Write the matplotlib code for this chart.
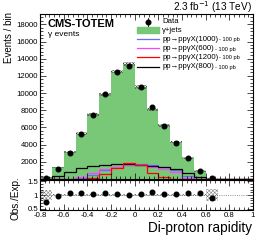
import numpy as np
import matplotlib
matplotlib.use("Agg")
import matplotlib.pyplot as plt
from matplotlib.ticker import MultipleLocator

plt.rcParams['font.family'] = ['Liberation Sans', 'DejaVu Sans']
plt.rcParams['axes.unicode_minus'] = False
plt.rcParams['hatch.linewidth'] = 0.35

# bins in di-proton rapidity
edges = [-0.8, -0.7, -0.6, -0.5, -0.4, -0.3, -0.2, -0.1, 0.0, 0.1,
         0.2, 0.3, 0.4, 0.5, 0.6, 0.7, 0.8, 0.9, 1.0]
centers = [-0.75, -0.65, -0.55, -0.45, -0.35, -0.25, -0.15, -0.05, 0.05,
           0.15, 0.25, 0.35, 0.45, 0.55, 0.65]

# data points
data = [150, 1200, 3080, 5230, 7420, 9860, 12480, 13100, 10740, 8440,
        6160, 4250, 2490, 940, 80]

# gamma+jets expectation and its uncertainty
gjets = [230, 1350, 3100, 5280, 7550, 9850, 12500, 13350, 10700, 8100,
         6250, 4320, 2490, 940, 60, 0, 0, 0]
gjets_unc = [60, 90, 120, 150, 170, 190, 210, 220, 200, 180,
             160, 130, 100, 70, 40, 0, 0, 0]

# signal samples (x 100 pb)
sig1000 = [0, 0, 0, 120, 520, 1000, 1400, 1650, 1700, 1600,
           1420, 1000, 400, 30, 0, 0, 0, 0]
sig600 = [0, 0, 30, 270, 740, 1180, 1450, 1580, 1580, 1400,
          1130, 800, 150, 0, 0, 0, 0, 0]
sig1200 = [0, 0, 0, 0, 100, 580, 1240, 1820, 1600, 650,
           250, 60, 0, 0, 0, 0, 0, 0]
sig800 = [30, 350, 870, 1270, 1480, 1640, 1740, 1750, 1600, 1480,
          1400, 1130, 670, 240, 20, 0, 0, 0]

# ratio panel
ratio = [0.75, 0.95, 1.06, 1.06, 1.03, 1.06, 1.03, 1.01, 1.04, 1.10,
         1.03, 1.04, 1.06, 1.06, 0.88]
ratio_unc = [0.18, 0.04, 0.03, 0.03, 0.03, 0.03, 0.03, 0.03, 0.03, 0.03,
             0.03, 0.03, 0.03, 0.03, 0.22, 0, 0, 0]

green = '#78c878'
fig = plt.figure(figsize=(2.66, 2.40), dpi=100)
ax = fig.add_axes([0.1504, 0.254, 0.8008, 0.6875])
rx = fig.add_axes([0.1504, 0.125, 0.8008, 0.125])

# main panel
ax.stairs(gjets, edges, fill=True, color=green, lw=0)
lo = np.array(gjets) - np.array(gjets_unc)
hi = np.array(gjets) + np.array(gjets_unc)
ax.stairs(hi, edges, baseline=lo, fill=True, facecolor='none',
          edgecolor='#444444', hatch='x' * 10, lw=0)
ax.stairs(sig1000, edges, color='#6a6aff', lw=0.9)
ax.stairs(sig600, edges, color='#ff44ff', lw=0.9)
ax.stairs(sig800, edges, color='black', lw=0.9)
ax.stairs(sig1200, edges, color='#ff0000', lw=0.9)
ax.plot(centers, data, 'o', color='black', ms=3.3, zorder=5)

ax.set_xlim(-0.8, 1.0)
ax.set_ylim(0, 19200)
ax.xaxis.set_major_locator(MultipleLocator(0.2))
ax.xaxis.set_minor_locator(MultipleLocator(0.04))
ax.yaxis.set_major_locator(MultipleLocator(2000))
ax.yaxis.set_minor_locator(MultipleLocator(400))
ax.set_xticklabels([])
ax.set_yticks([2000, 4000, 6000, 8000, 10000, 12000, 14000, 16000, 18000])

# ratio panel
rx.stairs(1 + np.array(ratio_unc), edges, baseline=1 - np.array(ratio_unc),
          fill=True, facecolor='none', edgecolor='#777777', hatch='x' * 9, lw=0)
rx.axhline(1, color='#666666', lw=0.6, ls=':')
rx.plot(centers, ratio, 'o', color='black', ms=3.3, zorder=5)
rx.set_xlim(-0.8, 1.0)
rx.set_ylim(0.45, 1.55)
rx.xaxis.set_major_locator(MultipleLocator(0.2))
rx.xaxis.set_minor_locator(MultipleLocator(0.04))
rx.set_yticks([0.5, 1, 1.5])
rx.set_yticklabels(['0.5', '1', '1.5'])
rx.yaxis.set_minor_locator(MultipleLocator(0.1))
rx.set_xticks([-0.8, -0.6, -0.4, -0.2, 0, 0.2, 0.4, 0.6, 0.8, 1.0])
rx.set_xticklabels(['-0.8', '-0.6', '-0.4', '-0.2', '0', '0.2', '0.4', '0.6', '0.8', '1'])

for a in (ax, rx):
    a.tick_params(which='both', direction='in', top=True, right=True,
                  labelsize=5.6, width=0.5, pad=1.5)
    a.tick_params(which='major', length=4)
    a.tick_params(which='minor', length=2)
    for s in a.spines.values():
        s.set_linewidth(0.8)

# texts
fig.text(0.947, 0.956, r'2.3 fb$^{-1}$ (13 TeV)', ha='right', va='baseline', fontsize=7.2)
fig.text(0.032, 0.95, 'Events / bin', rotation=90, ha='center', va='top', fontsize=7)
fig.text(0.06, 0.265, 'Obs./Exp.', rotation=90, ha='center', va='top', fontsize=7.2)
fig.text(0.947, 0.05, 'Di-proton rapidity', ha='right', va='center', fontsize=9.8)
ax.text(0.036, 0.939, 'CMS-TOTEM', transform=ax.transAxes, ha='left', va='center',
        fontsize=8, fontweight='bold')
ax.text(0.036, 0.876, 'γ events', transform=ax.transAxes, ha='left', va='center', fontsize=6)

# legend drawn by hand
x0, x1, xt = 0.455, 0.559, 0.573
rows = [0.953, 0.903, 0.847, 0.792, 0.738, 0.681]
ax.plot([(x0 + x1) / 2], [rows[0]], 'o', color='black', ms=3.3, transform=ax.transAxes, clip_on=False)
ax.plot([(x0 + x1) / 2] * 2, [rows[0] - 0.025, rows[0] + 0.025], color='black', lw=0.6,
        transform=ax.transAxes)
ax.text(xt, rows[0], 'Data', transform=ax.transAxes, va='center', fontsize=5.6)
ax.fill_between([x0, x1], rows[1] - 0.017, rows[1] + 0.017, color=green, transform=ax.transAxes)
ax.text(xt, rows[1], 'γ+jets', transform=ax.transAxes, va='center', fontsize=5.6)

sig_names = ['1000', '600', '1200', '800']
sig_colors = ['#6a6aff', '#ff44ff', '#ff0000', 'black']
fig.canvas.draw()
renderer = fig.canvas.get_renderer()
for name, col, yy in zip(sig_names, sig_colors, rows[2:]):
    ax.plot([x0, x1], [yy, yy], color=col, lw=0.9, transform=ax.transAxes)
    t = ax.text(xt, yy, 'pp→ppγX(' + name + ')', transform=ax.transAxes,
                va='center', fontsize=5.6)
    bb = t.get_window_extent(renderer).transformed(ax.transAxes.inverted())
    ax.text(bb.x1 + 0.005, yy - 0.004, '- 100 pb', transform=ax.transAxes,
            va='center', fontsize=4.1)

fig.savefig('out.png', dpi=100)
